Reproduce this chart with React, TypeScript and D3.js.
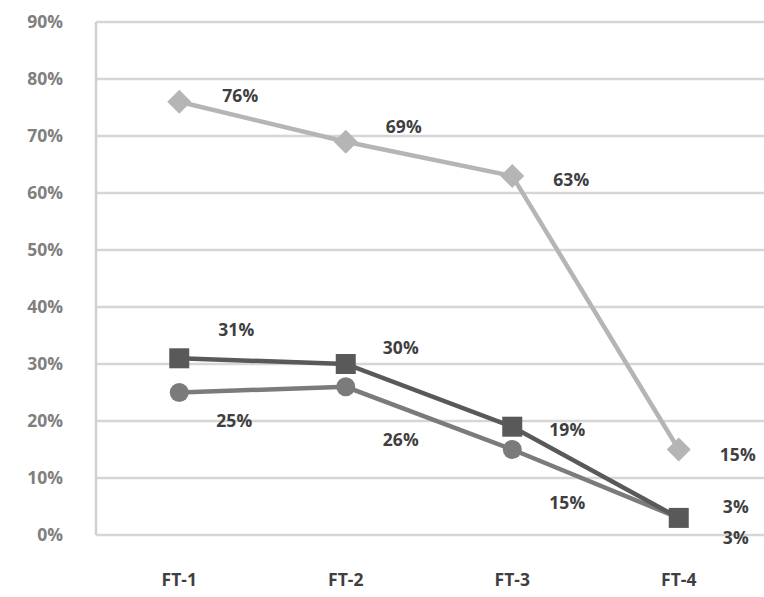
import React from "react";
import * as d3 from "d3";

const categories = ["FT-1", "FT-2", "FT-3", "FT-4"];
const diamondValues = [76, 69, 63, 15];
const squareValues = [31, 30, 19, 3];
const circleValues = [25, 26, 15, 3];
const yTicks = [0, 10, 20, 30, 40, 50, 60, 70, 80, 90];

// label offsets (dx, dy) relative to the point, per series
const diamondLabelOffsets = [[61, -6], [58, -15], [59, 4], [59, 5]];
const squareLabelOffsets = [[57, -28], [55, -16], [55, 3], [57, -11]];
const circleLabelOffsets = [[55, 28], [55, 53], [55, 53], [57, 20]];

const W = 764;
const H = 597;
const margin = { left: 96, right: 2, top: 22, bottom: 62 };

export default function App() {
  const x = d3
    .scalePoint<string>()
    .domain(categories)
    .range([margin.left, W - margin.right])
    .padding(0.5);
  const y = d3.scaleLinear().domain([0, 90]).range([H - margin.bottom, margin.top]);

  const line = d3
    .line<number>()
    .x((_, i) => x(categories[i]) as number)
    .y((v) => y(v));

  const font = "'Open Sans', 'Liberation Sans', sans-serif";
  const labelColor = "#3f3f3f";
  const fs = 17.5;

  const series = [
    { values: diamondValues, color: "#b5b5b5", marker: "diamond", offsets: diamondLabelOffsets },
    { values: circleValues, color: "#7b7b7b", marker: "circle", offsets: circleLabelOffsets },
    { values: squareValues, color: "#595959", marker: "square", offsets: squareLabelOffsets },
  ];

  const markerShape = (type: string, cx: number, cy: number, color: string, key: string) => {
    if (type === "diamond") {
      const s = 12;
      return (
        <path key={key} d={`M${cx},${cy - s}L${cx + s},${cy}L${cx},${cy + s}L${cx - s},${cy}Z`} fill={color} />
      );
    }
    if (type === "circle") {
      return <circle key={key} cx={cx} cy={cy} r={9.5} fill={color} />;
    }
    return <rect key={key} x={cx - 10} y={cy - 10} width={20} height={20} fill={color} />;
  };

  return (
    <svg width={W} height={H} style={{ display: "block", position: "absolute", left: 0, top: 0 }}>
      <rect width={W} height={H} fill="#ffffff" />
      {yTicks.map((t) => (
        <g key={t}>
          <line x1={margin.left} x2={W} y1={y(t)} y2={y(t)} stroke="#d6d6d6" strokeWidth={2.5} />
          <text
            x={63}
            y={y(t)}
            dy="0.35em"
            textAnchor="end"
            fontFamily={font}
            fontWeight="bold"
            fontSize={fs}
            fill="#7f7f7f"
          >
            {t}%
          </text>
        </g>
      ))}
      <line x1={margin.left} x2={margin.left} y1={margin.top} y2={y(0)} stroke="#d0d0d0" strokeWidth={2.5} />
      {categories.map((c) => (
        <text
          key={c}
          x={x(c)}
          y={580}
          dy="0.35em"
          textAnchor="middle"
          fontFamily={font}
          fontWeight="bold"
          fontSize={fs}
          fill={labelColor}
        >
          {c}
        </text>
      ))}
      {series.map((s, si) => (
        <g key={si}>
          <path d={line(s.values) || ""} fill="none" stroke={s.color} strokeWidth={4.5} />
          {s.values.map((v, i) => markerShape(s.marker, x(categories[i]) as number, y(v), s.color, `m${i}`))}
        </g>
      ))}
      {series.map((s, si) =>
        s.values.map((v, i) => (
          <text
            key={`l${si}-${i}`}
            x={(x(categories[i]) as number) + s.offsets[i][0]}
            y={y(v) + s.offsets[i][1]}
            dy="0.35em"
            textAnchor="middle"
            fontFamily={font}
            fontWeight="bold"
            fontSize={fs}
            fill={labelColor}
          >
            {v}%
          </text>
        ))
      )}
    </svg>
  );
}
